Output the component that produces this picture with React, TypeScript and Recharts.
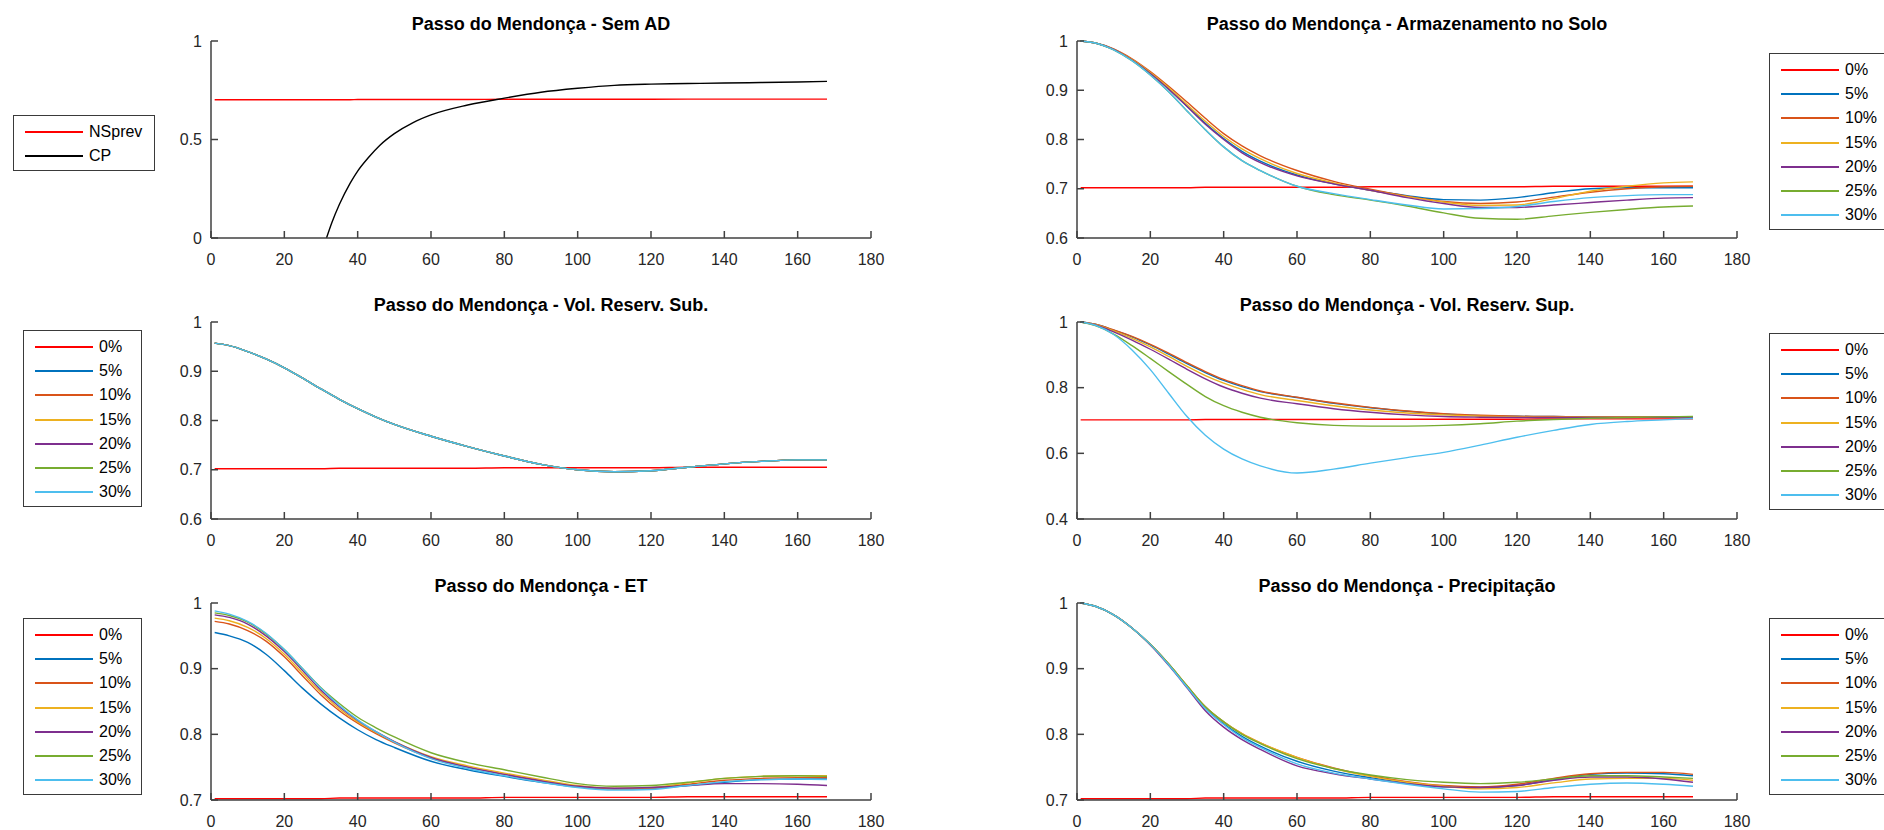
import React from "react";
import { LineChart, Line, XAxis, YAxis } from "recharts";

const FONT = '"Liberation Sans", Arial, Helvetica, sans-serif';
const AXIS = "#404040";

// shared x samples (time step)
const X = [1, 5, 10, 15, 20, 25, 30, 35, 40, 45, 50, 60, 70, 80, 90, 100, 110, 120, 130, 140, 150, 160, 168];
const X_TICKS = [0, 20, 40, 60, 80, 100, 120, 140, 160, 180];

const PCT_LABELS = ["0%", "5%", "10%", "15%", "20%", "25%", "30%"];
const PCT_COLORS = ["#FF0000", "#0072BD", "#D95319", "#EDB120", "#7E2F8E", "#77AC30", "#4DBEEE"];

// 0% reference (same curve in every panel)
const ZERO = [0.702, 0.702, 0.702, 0.702, 0.702, 0.702, 0.702, 0.703, 0.703, 0.703, 0.703, 0.703, 0.703, 0.704, 0.704, 0.704, 0.704, 0.704, 0.705, 0.705, 0.705, 0.705, 0.705];

// Sem AD
const X1 = [1, 31.5, 33, 35, 38, 40, 43, 46, 50, 55, 60, 70, 80, 90, 100, 110, 120, 130, 140, 150, 160, 168];
const NSPREV = [0.702, 0.702, 0.702, 0.702, 0.702, 0.703, 0.703, 0.703, 0.703, 0.703, 0.703, 0.703, 0.704, 0.704, 0.704, 0.704, 0.704, 0.705, 0.705, 0.705, 0.705, 0.705];
const CP = [null, 0, 0.08, 0.17, 0.28, 0.34, 0.41, 0.47, 0.53, 0.585, 0.625, 0.675, 0.71, 0.74, 0.76, 0.775, 0.781, 0.784, 0.787, 0.789, 0.792, 0.795];

// Armazenamento no Solo
const SOLO_5 = [1.0, 0.996, 0.983, 0.962, 0.935, 0.903, 0.868, 0.833, 0.802, 0.776, 0.756, 0.728, 0.71, 0.697, 0.686, 0.678, 0.677, 0.682, 0.692, 0.7, 0.702, 0.702, 0.702];
const SOLO_10 = [1.0, 0.996, 0.984, 0.964, 0.938, 0.908, 0.876, 0.843, 0.812, 0.787, 0.767, 0.737, 0.715, 0.699, 0.685, 0.674, 0.67, 0.673, 0.683, 0.693, 0.7, 0.704, 0.705];
const SOLO_15 = [1.0, 0.996, 0.983, 0.962, 0.936, 0.905, 0.871, 0.837, 0.806, 0.781, 0.761, 0.731, 0.712, 0.697, 0.684, 0.673, 0.666, 0.667, 0.68, 0.695, 0.705, 0.712, 0.714];
const SOLO_20 = [1.0, 0.996, 0.983, 0.961, 0.934, 0.902, 0.867, 0.831, 0.8, 0.773, 0.753, 0.726, 0.71, 0.697, 0.682, 0.67, 0.662, 0.662, 0.667, 0.672, 0.677, 0.681, 0.682];
const SOLO_25 = [1.0, 0.996, 0.982, 0.96, 0.931, 0.897, 0.858, 0.82, 0.785, 0.757, 0.737, 0.705, 0.688, 0.677, 0.665, 0.651, 0.64, 0.638, 0.645, 0.652, 0.658, 0.663, 0.665];
const SOLO_30 = [1.0, 0.996, 0.982, 0.96, 0.931, 0.897, 0.858, 0.82, 0.785, 0.757, 0.737, 0.705, 0.69, 0.678, 0.667, 0.659, 0.66, 0.664, 0.674, 0.682, 0.686, 0.688, 0.688];

// Vol. Reserv. Sub. (all percentages coincide)
const SUB = [0.957, 0.952, 0.94, 0.925, 0.907, 0.886, 0.864, 0.843, 0.824, 0.807, 0.792, 0.768, 0.747, 0.728, 0.711, 0.7, 0.696, 0.698, 0.705, 0.712, 0.717, 0.72, 0.72];

// Vol. Reserv. Sup.
const SUP_5 = [1.0, 0.993, 0.975, 0.955, 0.93, 0.902, 0.873, 0.846, 0.822, 0.803, 0.788, 0.77, 0.752, 0.739, 0.728, 0.72, 0.715, 0.713, 0.712, 0.711, 0.711, 0.711, 0.711];
const SUP_10 = [1.0, 0.993, 0.976, 0.956, 0.932, 0.905, 0.876, 0.849, 0.825, 0.806, 0.79, 0.771, 0.754, 0.74, 0.729, 0.721, 0.716, 0.713, 0.712, 0.711, 0.711, 0.711, 0.711];
const SUP_15 = [1.0, 0.992, 0.973, 0.95, 0.924, 0.895, 0.865, 0.837, 0.814, 0.795, 0.779, 0.761, 0.745, 0.732, 0.723, 0.717, 0.713, 0.711, 0.71, 0.71, 0.71, 0.71, 0.71];
const SUP_20 = [1.0, 0.991, 0.97, 0.945, 0.917, 0.887, 0.856, 0.827, 0.802, 0.783, 0.768, 0.751, 0.736, 0.725, 0.717, 0.712, 0.71, 0.709, 0.709, 0.709, 0.709, 0.71, 0.71];
const SUP_25 = [1.0, 0.989, 0.963, 0.928, 0.889, 0.849, 0.81, 0.773, 0.745, 0.725, 0.71, 0.693, 0.685, 0.683, 0.683, 0.685, 0.69, 0.698, 0.703, 0.707, 0.709, 0.711, 0.712];
const SUP_30 = [1.0, 0.99, 0.962, 0.915, 0.855, 0.783, 0.712, 0.655, 0.613, 0.583, 0.562, 0.54, 0.552, 0.57, 0.587, 0.603, 0.625, 0.649, 0.67, 0.688, 0.697, 0.702, 0.706];

// ET
const ET_5 = [0.955, 0.95, 0.94, 0.922, 0.897, 0.87, 0.846, 0.825, 0.807, 0.792, 0.78, 0.759, 0.746, 0.736, 0.727, 0.72, 0.717, 0.718, 0.722, 0.727, 0.731, 0.732, 0.732];
const ET_10 = [0.972, 0.968, 0.958, 0.942, 0.918, 0.889, 0.86, 0.836, 0.817, 0.801, 0.787, 0.764, 0.75, 0.739, 0.729, 0.721, 0.717, 0.718, 0.724, 0.73, 0.733, 0.734, 0.734];
const ET_15 = [0.977, 0.973, 0.963, 0.946, 0.922, 0.893, 0.864, 0.839, 0.819, 0.803, 0.789, 0.766, 0.752, 0.741, 0.731, 0.722, 0.718, 0.719, 0.726, 0.733, 0.736, 0.737, 0.737];
const ET_20 = [0.982, 0.978, 0.968, 0.95, 0.926, 0.897, 0.867, 0.842, 0.821, 0.804, 0.789, 0.765, 0.75, 0.739, 0.729, 0.721, 0.718, 0.719, 0.722, 0.725, 0.725, 0.724, 0.722];
const ET_25 = [0.985, 0.981, 0.971, 0.953, 0.929, 0.9, 0.871, 0.847, 0.826, 0.81, 0.796, 0.772, 0.757, 0.746, 0.735, 0.725, 0.721, 0.722, 0.727, 0.733, 0.736, 0.737, 0.736];
const ET_30 = [0.988, 0.983, 0.972, 0.954, 0.929, 0.9, 0.87, 0.844, 0.822, 0.804, 0.788, 0.763, 0.748, 0.737, 0.727, 0.719, 0.715, 0.716, 0.722, 0.728, 0.731, 0.732, 0.731];

// Precipitação
const PR_5 = [1.0, 0.995, 0.982, 0.962, 0.937, 0.907, 0.873, 0.84, 0.816, 0.797, 0.782, 0.759, 0.744, 0.734, 0.726, 0.72, 0.719, 0.722, 0.731, 0.739, 0.741, 0.74, 0.737];
const PR_10 = [1.0, 0.995, 0.982, 0.962, 0.937, 0.907, 0.874, 0.842, 0.819, 0.801, 0.787, 0.765, 0.749, 0.737, 0.728, 0.722, 0.72, 0.724, 0.733, 0.74, 0.742, 0.742, 0.739];
const PR_15 = [1.0, 0.995, 0.982, 0.962, 0.937, 0.907, 0.874, 0.842, 0.819, 0.801, 0.787, 0.765, 0.748, 0.736, 0.727, 0.721, 0.717, 0.719, 0.726, 0.732, 0.733, 0.733, 0.73];
const PR_20 = [1.0, 0.995, 0.982, 0.962, 0.936, 0.905, 0.871, 0.836, 0.811, 0.792, 0.777, 0.752, 0.74, 0.732, 0.725, 0.72, 0.719, 0.722, 0.73, 0.735, 0.735, 0.732, 0.727];
const PR_25 = [1.0, 0.995, 0.982, 0.962, 0.937, 0.907, 0.874, 0.842, 0.819, 0.8, 0.786, 0.763, 0.748, 0.738, 0.731, 0.727, 0.725, 0.727, 0.732, 0.737, 0.737, 0.735, 0.733];
const PR_30 = [1.0, 0.995, 0.982, 0.962, 0.937, 0.906, 0.872, 0.839, 0.815, 0.795, 0.78, 0.755, 0.741, 0.732, 0.724, 0.717, 0.712, 0.713, 0.719, 0.724, 0.726, 0.724, 0.721];

type Series = { name: string; color: string; data: (number | null)[] };

const pct = (arrs: (number | null)[][]): Series[] =>
  arrs.map((d, i) => ({ name: PCT_LABELS[i], color: PCT_COLORS[i], data: d }));

const XTick = (props: any) => {
  const { x, y, payload } = props;
  return (
    <g>
      <line x1={x} x2={x} y1={y} y2={y - 7} stroke={AXIS} strokeWidth={1.5} />
      <text x={x} y={y + 21} dy="0.35em" textAnchor="middle" fill="#262626" fontSize={16} fontFamily={FONT}>
        {payload.value}
      </text>
    </g>
  );
};

const YTick = (props: any) => {
  const { x, y, payload } = props;
  const ax = x + 9;
  return (
    <g>
      <line x1={ax} x2={ax + 7} y1={y} y2={y} stroke={AXIS} strokeWidth={1.5} />
      <text x={x} y={y} dy="0.35em" textAnchor="end" fill="#262626" fontSize={16} fontFamily={FONT}>
        {payload.value}
      </text>
    </g>
  );
};

const PW = 660;
const PH = 197;
const ML = 70;
const MT = 40;

function Panel(props: {
  title: string;
  left: number;
  top: number;
  xs: number[];
  series: Series[];
  domain: [number, number];
  yTicks: number[];
}) {
  const { title, left, top, xs, series, domain, yTicks } = props;
  const rows = xs.map((x, i) => {
    const r: any = { x };
    series.forEach((s, k) => (r["s" + k] = s.data[i]));
    return r;
  });
  return (
    <>
      <div
        style={{
          position: "absolute",
          left,
          top: top - 28,
          width: PW,
          textAlign: "center",
          fontFamily: FONT,
          fontWeight: "bold",
          fontSize: 18,
          lineHeight: "22px",
          color: "#000",
        }}
      >
        {title}
      </div>
      <div style={{ position: "absolute", left: left - ML, top: top - MT }}>
        <LineChart width={PW + ML + 20} height={PH + MT + 40} data={rows} margin={{ top: MT, right: 20, left: 0, bottom: 0 }}>
          <XAxis
            type="number"
            dataKey="x"
            domain={[0, 180]}
            ticks={X_TICKS}
            interval={0}
            height={40}
            tickSize={0}
            tickMargin={0}
            tickLine={false}
            axisLine={{ stroke: AXIS, strokeWidth: 1.5 }}
            tick={<XTick />}
          />
          <YAxis
            type="number"
            domain={domain}
            ticks={yTicks}
            interval={0}
            width={ML}
            tickSize={0}
            tickMargin={9}
            tickLine={false}
            axisLine={{ stroke: AXIS, strokeWidth: 1.5 }}
            tick={<YTick />}
          />
          {series.map((s, k) => (
            <Line
              key={s.name}
              dataKey={"s" + k}
              name={s.name}
              stroke={s.color}
              strokeWidth={1.4}
              dot={false}
              type="monotone"
              isAnimationActive={false}
            />
          ))}
        </LineChart>
      </div>
    </>
  );
}

function LegendBox(props: { left: number; top: number; width: number; series: Series[] }) {
  const { left, top, width, series } = props;
  const h = series.length * 24.2 + 8;
  return (
    <div
      style={{
        position: "absolute",
        left,
        top,
        width,
        height: h,
        border: "1.5px solid #3a3a3a",
        background: "#fff",
        boxSizing: "border-box",
      }}
    >
      {series.map((s, i) => (
        <div key={s.name} style={{ position: "absolute", left: 0, top: 4 + i * 24.2, height: 24, width: "100%" }}>
          <div style={{ position: "absolute", left: 11, top: 11, width: 58, height: 2, background: s.color }} />
          <div
            style={{
              position: "absolute",
              left: 75,
              top: 2,
              fontFamily: FONT,
              fontSize: 16,
              lineHeight: "20px",
              color: "#000",
              whiteSpace: "nowrap",
            }}
          >
            {s.name}
          </div>
        </div>
      ))}
    </div>
  );
}

const LX = 211;
const RX = 1077;
const ROWS = [41, 322, 603];

export default function App() {
  const semAd: Series[] = [
    { name: "NSprev", color: "#FF0000", data: NSPREV },
    { name: "CP", color: "#000000", data: CP },
  ];
  const solo = pct([ZERO, SOLO_5, SOLO_10, SOLO_15, SOLO_20, SOLO_25, SOLO_30]);
  const sub = pct([ZERO, SUB, SUB, SUB, SUB, SUB, SUB]);
  const sup = pct([ZERO, SUP_5, SUP_10, SUP_15, SUP_20, SUP_25, SUP_30]);
  const et = pct([ZERO, ET_5, ET_10, ET_15, ET_20, ET_25, ET_30]);
  const pr = pct([ZERO, PR_5, PR_10, PR_15, PR_20, PR_25, PR_30]);

  return (
    <div style={{ position: "absolute", left: 0, top: 0, width: 1884, height: 830, background: "#fff", overflow: "hidden" }}>
      <Panel title="Passo do Mendonça - Sem AD" left={LX} top={ROWS[0]} xs={X1} series={semAd} domain={[0, 1]} yTicks={[0, 0.5, 1]} />
      <Panel title="Passo do Mendonça - Armazenamento no Solo" left={RX} top={ROWS[0]} xs={X} series={solo} domain={[0.6, 1]} yTicks={[0.6, 0.7, 0.8, 0.9, 1]} />
      <Panel title="Passo do Mendonça - Vol. Reserv. Sub." left={LX} top={ROWS[1]} xs={X} series={sub} domain={[0.6, 1]} yTicks={[0.6, 0.7, 0.8, 0.9, 1]} />
      <Panel title="Passo do Mendonça - Vol. Reserv. Sup." left={RX} top={ROWS[1]} xs={X} series={sup} domain={[0.4, 1]} yTicks={[0.4, 0.6, 0.8, 1]} />
      <Panel title="Passo do Mendonça - ET" left={LX} top={ROWS[2]} xs={X} series={et} domain={[0.7, 1]} yTicks={[0.7, 0.8, 0.9, 1]} />
      <Panel title="Passo do Mendonça - Precipitação" left={RX} top={ROWS[2]} xs={X} series={pr} domain={[0.7, 1]} yTicks={[0.7, 0.8, 0.9, 1]} />

      <LegendBox left={13} top={115} width={142} series={semAd} />
      <LegendBox left={1769} top={53} width={130} series={solo} />
      <LegendBox left={23} top={330} width={119} series={sub} />
      <LegendBox left={1769} top={333} width={130} series={sup} />
      <LegendBox left={23} top={618} width={119} series={et} />
      <LegendBox left={1769} top={618} width={130} series={pr} />
    </div>
  );
}
